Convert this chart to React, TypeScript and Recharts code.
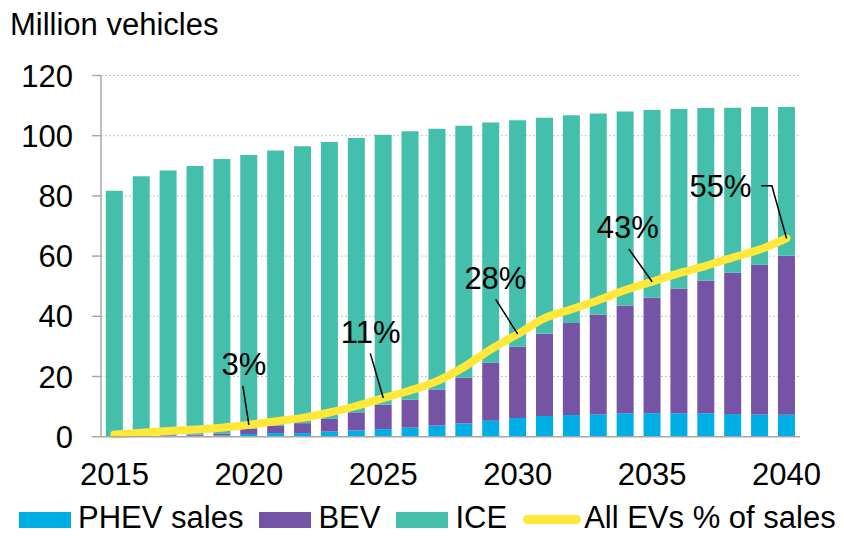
import React from 'react';
import {
  ComposedChart,
  Bar,
  Line,
  XAxis,
  YAxis,
  CartesianGrid,
  Legend,
  LabelList,
  Label,
} from 'recharts';

// ---- Data ----
const years = [
  2015, 2016, 2017, 2018, 2019, 2020, 2021, 2022, 2023, 2024, 2025, 2026, 2027,
  2028, 2029, 2030, 2031, 2032, 2033, 2034, 2035, 2036, 2037, 2038, 2039, 2040,
];
const phevSales = [
  0.1, 0.2, 0.3, 0.3, 0.4, 0.9, 1.2, 1.2, 1.7, 2.1, 2.5, 3.0, 3.7, 4.4, 5.3,
  6.2, 6.9, 7.2, 7.4, 7.8, 7.8, 7.8, 7.8, 7.5, 7.4, 7.3,
];
const bevSales = [
  0.1, 0.1, 0.2, 0.4, 0.7, 1.8, 2.5, 3.3, 4.3, 6.0, 8.1, 9.3, 12.0, 15.2, 19.3,
  23.7, 27.3, 30.6, 33.1, 35.8, 38.4, 41.4, 44.1, 47.0, 49.7, 52.8,
];
const iceSales = [
  81.5, 86.2, 87.9, 89.2, 91.2, 90.9, 91.4, 92.0, 91.9, 91.1, 89.7, 89.2, 86.6,
  83.7, 79.8, 75.2, 71.8, 69.0, 66.9, 64.4, 62.3, 59.7, 57.3, 54.8, 52.4, 49.4,
];
const evSharePct = [
  0.6, 1.1, 1.6, 2.0, 2.5, 3.3, 4.3, 5.2, 6.7, 8.5, 10.7, 12.8, 15.4, 19.3,
  24.2, 28.4, 32.8, 35.3, 37.8, 40.6, 42.9, 45.3, 47.3, 49.6, 51.8, 54.9,
];
const yTicks = [0, 20, 40, 60, 80, 100, 120];
const annotatedYears = [2020, 2025, 2030, 2035, 2040];
const annotationLabels = ['3%', '11%', '28%', '43%', '55%'];
const seriesNames = ['PHEV sales', 'BEV', 'ICE', 'All EVs % of sales'];
const yTitle = 'Million vehicles';

// ---- Styles ----
const FONT = '"Liberation Sans", Arial, Helvetica, sans-serif';
const FS = 31;
const C_PHEV = '#00AEE6';
const C_BEV = '#7553A5';
const C_ICE = '#44BFAC';
const C_LINE = '#FFE83A';
const C_AXIS = '#A8A8A8';

// annotation placement relative to the line point (text centre/baseline, leader path)
const annotationLayout = [
  { tx: -5, ty: -50, leader: [[-6, -39], [0, 0]] },
  { tx: -12.7, ty: -54.7, leader: [[-13, -44.7], [0, 0]] },
  { tx: -22.3, ty: -44.7, leader: [[-22, -34.7], [0, 0]] },
  { tx: -24.3, ty: -43.4, leader: [[-23.3, -32.7], [0, 0]] },
  { tx: -66, ty: -41.6, leader: [[-25.3, -52.6], [-14.7, -52.6], [0, 0]] },
];

const data = years.map((year, i) => ({
  year,
  phev: phevSales[i],
  bev: bevSales[i],
  ice: iceSales[i],
  pct: evSharePct[i],
}));

const boundaryTicks = Array.from({ length: years.length + 1 }, (_, i) => i);

const renderAnnotation = (props: any) => {
  const { x, y, value } = props;
  const k = annotatedYears.indexOf(Number(value));
  if (k < 0 || x == null || y == null) return null;
  const a = annotationLayout[k];
  const pts = a.leader.map(([dx, dy]) => `${x + dx},${y + dy}`).join(' ');
  return (
    <g key={`anno-${k}`}>
      <polyline points={pts} fill="none" stroke="#000" strokeWidth={1.5} />
      <text
        x={x + a.tx}
        y={y + a.ty}
        textAnchor="middle"
        fontFamily={FONT}
        fontSize={FS}
        fill="#000"
      >
        {annotationLabels[k]}
      </text>
    </g>
  );
};

const renderTitle = () => (
  <text x={10} y={35} fontFamily={FONT} fontSize={FS} fill="#000">
    {yTitle}
  </text>
);

const swatchColors = [C_PHEV, C_BEV, C_ICE];

const renderLegend = () => (
  <div
    style={{
      display: 'flex',
      alignItems: 'center',
      height: 32,
      paddingLeft: 19,
      fontFamily: FONT,
      fontSize: FS,
      color: '#000',
      whiteSpace: 'nowrap',
      boxSizing: 'border-box',
      width: 844,
    }}
  >
    {seriesNames.map((name, i) => (
      <div
        key={name}
        style={{
          display: 'flex',
          alignItems: 'center',
          flexShrink: 0,
          height: 32,
          marginRight: i < seriesNames.length - 1 ? 16 : 0,
        }}
      >
        {i < 3 ? (
          <div
            style={{
              width: 52,
              height: 16,
              flexShrink: 0,
              background: swatchColors[i],
              marginRight: 7,
              position: 'relative',
              top: 2,
            }}
          />
        ) : (
          <div
            style={{
              width: 58,
              height: 9,
              flexShrink: 0,
              borderRadius: 5,
              background: C_LINE,
              marginRight: 3,
              position: 'relative',
              top: 1,
            }}
          />
        )}
        <span style={{ lineHeight: '32px', flexShrink: 0 }}>{name}</span>
      </div>
    ))}
  </div>
);

export default function App() {
  return (
    <div style={{ position: 'absolute', left: 0, top: 0, width: 844, height: 536, background: '#fff' }}>
      <ComposedChart
        width={844}
        height={536}
        data={data}
        margin={{ top: 75.5, right: 44, left: 21, bottom: 65.3 }}
        barCategoryGap="18%"
      >
        <CartesianGrid
          yAxisId="left"
          xAxisId="cat"
          vertical={false}
          stroke="#C4C4C4"
          strokeDasharray="2 2"
        />
        <XAxis
          xAxisId="bnd"
          type="number"
          domain={[0, years.length]}
          ticks={boundaryTicks}
          allowDataOverflow
          height={1}
          tick={false}
          tickSize={9}
          axisLine={{ stroke: C_AXIS, strokeWidth: 1.5 }}
          tickLine={{ stroke: C_AXIS, strokeWidth: 1.5 }}
        />
        <XAxis
          xAxisId="cat"
          dataKey="year"
          type="category"
          height={1}
          interval={4}
          axisLine={false}
          tickLine={false}
          tickSize={9}
          tickMargin={16}
          tick={{ fontFamily: FONT, fontSize: FS, fill: '#000' }}
        />
        <YAxis
          yAxisId="left"
          width={80}
          domain={[0, 120]}
          ticks={yTicks}
          tickSize={9}
          tickMargin={19}
          axisLine={{ stroke: C_AXIS, strokeWidth: 1.5 }}
          tickLine={{ stroke: C_AXIS, strokeWidth: 1.5 }}
          tick={{ fontFamily: FONT, fontSize: FS, fill: '#000' }}
        >
          <Label content={renderTitle} />
        </YAxis>
        <YAxis yAxisId="pct" orientation="right" domain={[0, 100]} hide />
        <Legend
          verticalAlign="bottom"
          content={renderLegend}
          wrapperStyle={{ left: 0, top: 502, bottom: 'auto', width: 844, height: 32 }}
        />
        <Bar xAxisId="cat" yAxisId="left" dataKey="phev" stackId="s" fill={C_PHEV} isAnimationActive={false} />
        <Bar xAxisId="cat" yAxisId="left" dataKey="bev" stackId="s" fill={C_BEV} isAnimationActive={false} />
        <Bar xAxisId="cat" yAxisId="left" dataKey="ice" stackId="s" fill={C_ICE} isAnimationActive={false} />
        <Line
          xAxisId="cat"
          yAxisId="pct"
          type="monotone"
          dataKey="pct"
          stroke={C_LINE}
          strokeWidth={8}
          strokeLinecap="round"
          dot={false}
          activeDot={false}
          isAnimationActive={false}
        >
          <LabelList dataKey="year" content={renderAnnotation} />
        </Line>
      </ComposedChart>
    </div>
  );
}
